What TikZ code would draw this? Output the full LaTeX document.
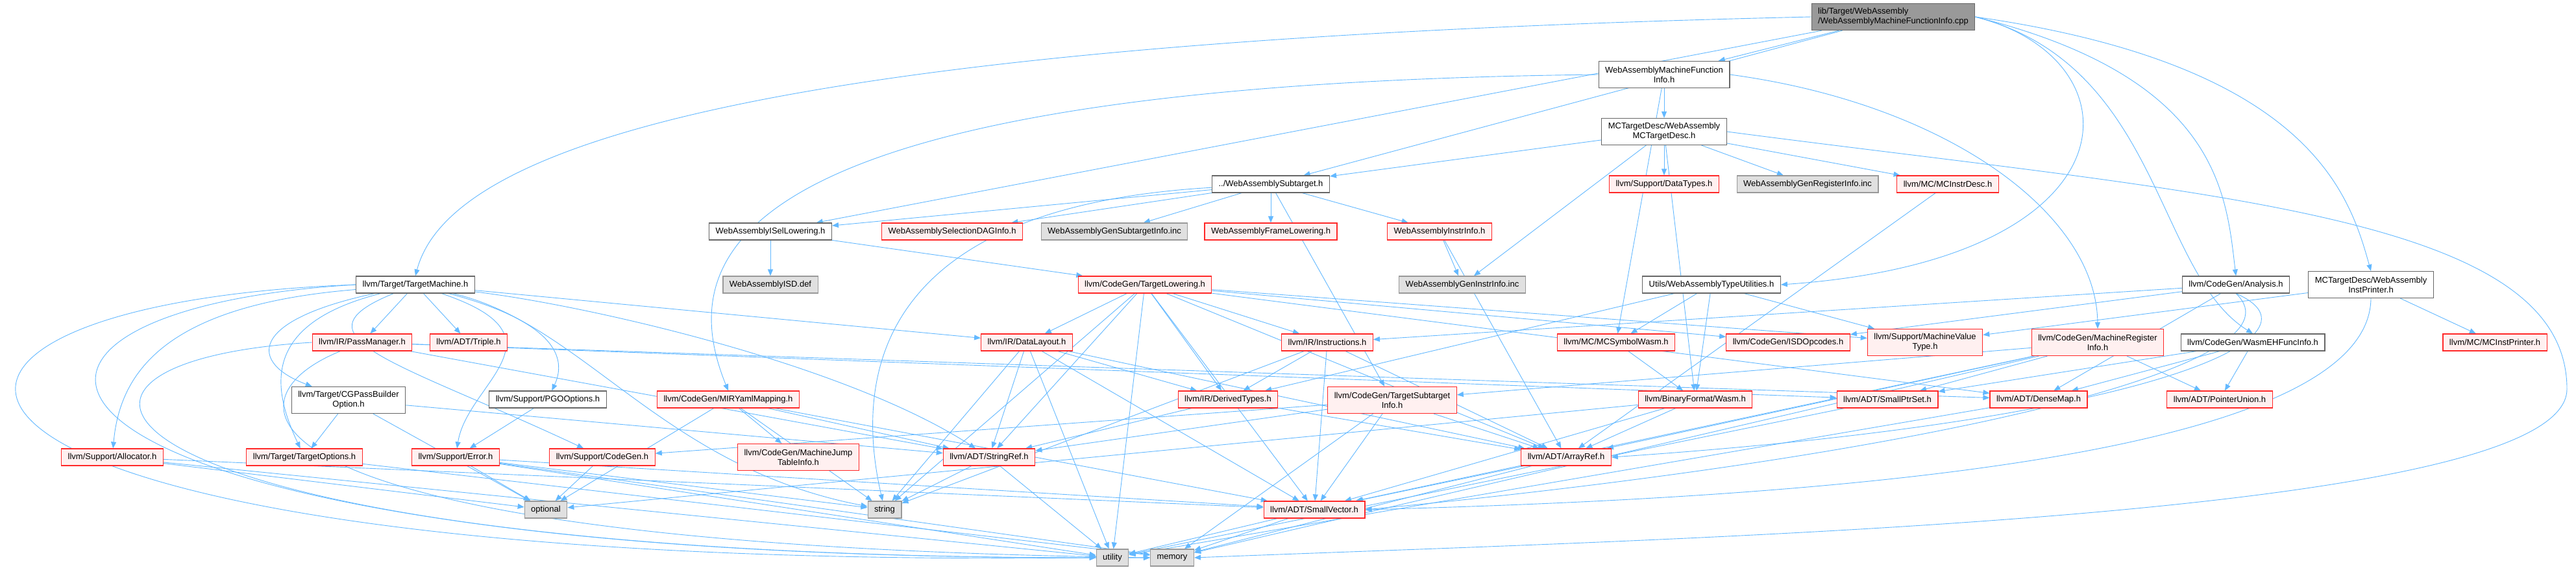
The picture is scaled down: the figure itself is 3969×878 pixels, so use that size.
\documentclass[tikz,border=0pt]{standalone}
\usepackage{fontspec}
\setmainfont{Liberation Sans}
\usepackage{xcolor}
\usepackage{tikz}
\usetikzlibrary{arrows.meta,backgrounds}
\definecolor{edgeblue}{RGB}{99,184,255}
\definecolor{redfill}{RGB}{255,240,240}
\definecolor{redline}{RGB}{255,40,40}
\definecolor{grayfill}{RGB}{224,224,224}
\definecolor{grayline}{RGB}{153,153,153}
\definecolor{darkline}{RGB}{102,102,102}

\begin{document}
\begin{tikzpicture}[x=1pt, y=-1pt,
box/.style={draw=darkline, fill=white, line width=1.2pt, minimum height=26pt, inner xsep=10pt, inner ysep=3pt, align=center, font=\fontsize{13}{15}\selectfont},
trunc/.style={box, draw=redline, fill=redfill},
sys/.style={box, draw=grayline, fill=grayfill},
rootbox/.style={box, draw=darkline, fill=grayline, align=left},
two/.style={minimum height=41pt},
arr/.style={-{Triangle[length=10pt,width=8pt]}, draw=edgeblue, line width=0.9pt}
]
\useasboundingbox (0,0) rectangle (3969,878);

% rank 0 to 4
\node[rootbox, two] (root) at (2917,26) {lib/Target/WebAssembly\\/WebAssemblyMachineFunctionInfo.cpp};
\node[box, two] (mfi) at (2564,115) {WebAssemblyMachineFunction\\Info.h};
\node[box, two] (mctd) at (2564,203) {MCTargetDesc/WebAssembly\\MCTargetDesc.h};
\node[box] (subtarget) at (1958,284) {../WebAssemblySubtarget.h};
\node[trunc] (datatypes) at (2564,284) {llvm/Support/DataTypes.h};
\node[sys] (genreg) at (2785,284) {WebAssemblyGenRegisterInfo.inc};
\node[trunc] (mcinstrdesc) at (3001,284) {llvm/MC/MCInstrDesc.h};
\node[box] (isel) at (1187,357) {WebAssemblyISelLowering.h};
\node[trunc] (seldag) at (1467,357) {WebAssemblySelectionDAGInfo.h};
\node[sys] (gensub) at (1717,357) {WebAssemblyGenSubtargetInfo.inc};
\node[trunc] (framelow) at (1958,357) {WebAssemblyFrameLowering.h};
\node[trunc] (instrinfo) at (2218,357) {WebAssemblyInstrInfo.h};

% rank 5
\node[box] (tm) at (640,439) {llvm/Target/TargetMachine.h};
\node[sys] (isddef) at (1187,439) {WebAssemblyISD.def};
\node[trunc] (tlow) at (1764,439) {llvm/CodeGen/TargetLowering.h};
\node[sys] (geninstr) at (2253,439) {WebAssemblyGenInstrInfo.inc};
\node[box] (typeutil) at (2637,439) {Utils/WebAssemblyTypeUtilities.h};
\node[box] (analysis) at (3445,439) {llvm/CodeGen/Analysis.h};
\node[box, two] (instprinter) at (3653,439) {MCTargetDesc/WebAssembly\\InstPrinter.h};

% rank 6
\node[trunc] (passmgr) at (558,528) {llvm/IR/PassManager.h};
\node[trunc] (triple) at (722,528) {llvm/ADT/Triple.h};
\node[trunc] (datalayout) at (1582,528) {llvm/IR/DataLayout.h};
\node[trunc] (instrs) at (2045,528) {llvm/IR/Instructions.h};
\node[trunc] (mcsymwasm) at (2490,528) {llvm/MC/MCSymbolWasm.h};
\node[trunc] (isdopc) at (2755,528) {llvm/CodeGen/ISDOpcodes.h};
\node[trunc, two] (mvt) at (2966,528) {llvm/Support/MachineValue\\Type.h};
\node[trunc, two] (mri) at (3232,528) {llvm/CodeGen/MachineRegister\\Info.h};
\node[box] (wasmeh) at (3471,528) {llvm/CodeGen/WasmEHFuncInfo.h};
\node[trunc] (mcinstprinter) at (3844,528) {llvm/MC/MCInstPrinter.h};

% rank 7
\node[box, two] (cgpbo) at (537,617) {llvm/Target/CGPassBuilder\\Option.h};
\node[box] (pgo) at (844,616) {llvm/Support/PGOOptions.h};
\node[trunc] (miryaml) at (1122,616) {llvm/CodeGen/MIRYamlMapping.h};
\node[trunc] (derived) at (1892,616) {llvm/IR/DerivedTypes.h};
\node[trunc, two] (tsi) at (2145,617) {llvm/CodeGen/TargetSubtarget\\Info.h};
\node[trunc] (wasm) at (2612,616) {llvm/BinaryFormat/Wasm.h};
\node[trunc] (smallptrset) at (2908,616) {llvm/ADT/SmallPtrSet.h};
\node[trunc] (densemap) at (3141,616) {llvm/ADT/DenseMap.h};
\node[trunc] (ptrunion) at (3420,616) {llvm/ADT/PointerUnion.h};

% rank 8 to 10
\node[trunc] (allocator) at (173,705) {llvm/Support/Allocator.h};
\node[trunc] (topts) at (469,705) {llvm/Target/TargetOptions.h};
\node[trunc] (error) at (702,705) {llvm/Support/Error.h};
\node[trunc] (cgen) at (928,705) {llvm/Support/CodeGen.h};
\node[trunc, two] (mjti) at (1230,705) {llvm/CodeGen/MachineJump\\TableInfo.h};
\node[trunc] (stringref) at (1524,705) {llvm/ADT/StringRef.h};
\node[trunc] (arrayref) at (2413,705) {llvm/ADT/ArrayRef.h};
\node[sys] (optional) at (841,786) {optional};
\node[sys] (string) at (1363,786) {string};
\node[trunc] (smallvec) at (2025,786) {llvm/ADT/SmallVector.h};
\node[sys] (utility) at (1714,860) {utility};
\node[sys] (memory) at (1806,860) {memory};

\begin{scope}[on background layer]
% straight includes
\foreach \a/\b in {root/mfi, root/isel, root/subtarget,
  mfi/mctd, mfi/mcsymwasm,
  mctd/subtarget, mctd/datatypes, mctd/genreg, mctd/mcinstrdesc, mctd/geninstr, mctd/wasm,
  subtarget/isel, subtarget/seldag, subtarget/gensub, subtarget/framelow, subtarget/instrinfo, subtarget/tsi,
  isel/isddef, isel/tlow, instrinfo/geninstr, instrinfo/arrayref,
  typeutil/mcsymwasm, typeutil/wasm, typeutil/mvt, typeutil/derived,
  analysis/densemap, analysis/isdopc, analysis/instrs,
  instprinter/mcinstprinter, instprinter/mvt,
  tm/passmgr, tm/triple, tm/datalayout,
  tlow/datalayout, tlow/derived, tlow/instrs, tlow/utility, tlow/smallvec, tlow/arrayref, tlow/densemap, tlow/stringref, tlow/isdopc, tlow/mvt, tlow/string,
  datalayout/derived, datalayout/stringref, datalayout/smallvec, datalayout/arrayref, datalayout/utility, datalayout/string,
  instrs/derived, instrs/arrayref, instrs/smallvec, instrs/string,
  derived/arrayref, derived/stringref,
  tsi/cgen, tsi/arrayref, tsi/smallvec, tsi/stringref, tsi/memory,
  mri/arrayref, mri/ptrunion, mri/smallptrset, mri/smallvec, mri/tsi, mri/memory,
  wasmeh/densemap, wasmeh/ptrunion, wasmeh/smallptrset,
  mcsymwasm/wasm, wasm/arrayref, wasm/smallvec, wasm/optional, mcinstrdesc/arrayref,
  passmgr/densemap, passmgr/smallptrset, passmgr/stringref,
  cgpbo/topts, cgpbo/stringref, cgpbo/optional, pgo/error,
  miryaml/smallvec, miryaml/stringref, miryaml/mjti, miryaml/optional, miryaml/string,
  allocator/smallvec, allocator/optional, allocator/utility, topts/memory,
  error/smallvec, error/optional, error/string, error/memory, error/utility,
  cgen/optional, stringref/string, stringref/utility, arrayref/smallvec, arrayref/memory,
  smallvec/utility, smallvec/memory, smallptrset/utility, densemap/utility}
  \draw[arr] (\a) -- (\b);

% bent includes of TargetMachine.h
\draw[arr] (tm) .. controls (380,495) and (385,560) .. (cgpbo);
\draw[arr] (tm) .. controls (870,500) and (870,560) .. (pgo);
\draw[arr] (tm) .. controls (880,520) and (720,590) .. (error);
\draw[arr] (tm) .. controls (440,520) and (620,560) .. (cgen);
\draw[arr] (tm) .. controls (260,470) and (185,570) .. (allocator);
\draw[arr] (tm) .. controls (400,500) and (420,600) .. (topts);
\draw[arr] (tm) .. controls (900,470) and (1300,560) .. (stringref);
\draw[arr] (tm) .. controls (900,500) and (1020,720) .. (string);
\draw[arr] (tm.west) .. controls (-300,470) and (-250,880) .. (utility.west);
\draw[arr] (tm.west) .. controls (-150,480) and (-50,870) .. (memory.west);
\draw[arr] (passmgr.west) .. controls (-50,560) and (150,860) .. (utility.west);
\draw[arr] (passmgr) .. controls (330,620) and (350,840) .. (memory.west);
\draw[arr] (subtarget) .. controls (1330,320) and (1320,600) .. (string);

% routed around the sides
\draw[arr] (root.west) .. controls (1300,60) and (700,200) .. (tm.north);
\draw[arr] (root.east) .. controls (3300,90) and (3300,400) .. (typeutil.east);
\draw[arr] (root.east) .. controls (3330,100) and (3320,420) .. (wasmeh.north);
\draw[arr] (root.east) .. controls (3420,120) and (3430,300) .. (analysis.north);
\draw[arr] (root.east) .. controls (3560,100) and (3620,300) .. (instprinter.north);
\draw[arr] (mfi.west) .. controls (1100,130) and (1040,400) .. (miryaml.north);
\draw[arr] (mfi.east) .. controls (3000,160) and (3230,330) .. (mri.north);
\draw[arr] (mctd.east) .. controls (3400,300) and (3955,330) .. (3955,600) .. controls (3955,800) and (2600,830) .. (memory.east);
\draw[arr] (instprinter.south) .. controls (3650,720) and (2700,770) .. (smallvec.east);
\draw[arr] (analysis.south) .. controls (3560,560) and (3000,700) .. (smallvec.east);
\draw[arr] (analysis.south) .. controls (3600,520) and (3300,650) .. (arrayref.east);
\end{scope}
\end{tikzpicture}
\end{document}
